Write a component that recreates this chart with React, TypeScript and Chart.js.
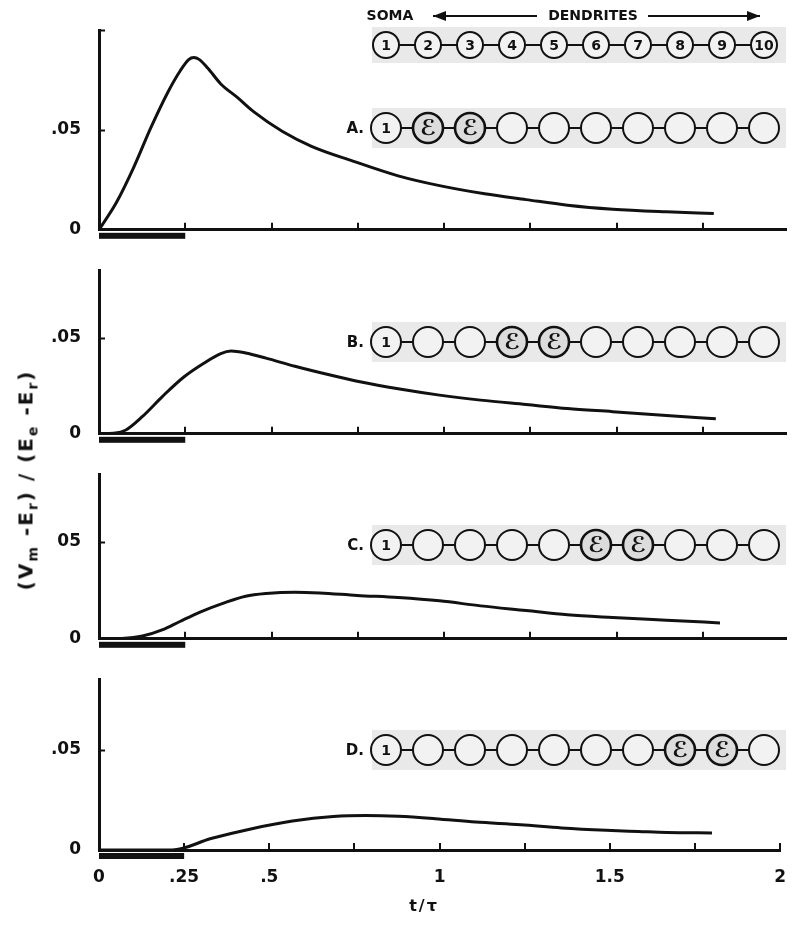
import React, { useEffect, useRef } from 'react';
import { Chart, registerables } from 'chart.js';

Chart.register(...registerables);

// ---------------- data ----------------
const timeA = [0, 0.05, 0.1, 0.15, 0.2, 0.235, 0.26, 0.275, 0.29, 0.315, 0.353, 0.4, 0.449, 0.532, 0.616, 0.736, 0.867, 0.987, 1.118, 1.238, 1.358, 1.489, 1.645, 1.782];
const responseA = [0, 0.0135, 0.031, 0.051, 0.069, 0.0795, 0.0852, 0.0862, 0.0853, 0.081, 0.073, 0.0664, 0.059, 0.0492, 0.0418, 0.0344, 0.027, 0.0221, 0.018, 0.0151, 0.0123, 0.0103, 0.009, 0.0082];

const timeB = [0, 0.042, 0.078, 0.126, 0.185, 0.245, 0.305, 0.353, 0.383, 0.425, 0.484, 0.568, 0.664, 0.76, 0.867, 0.987, 1.106, 1.238, 1.358, 1.489, 1.645, 1.788];
const responseB = [0, 0.0003, 0.002, 0.009, 0.0196, 0.0294, 0.0368, 0.0417, 0.043, 0.042, 0.0393, 0.0351, 0.0308, 0.0269, 0.0234, 0.0201, 0.0175, 0.0152, 0.0131, 0.0115, 0.0095, 0.0078];

const timeC = [0, 0.066, 0.126, 0.185, 0.233, 0.293, 0.365, 0.425, 0.484, 0.568, 0.64, 0.748, 0.867, 0.987, 1.106, 1.238, 1.358, 1.489, 1.645, 1.8];
const responseC = [0, 0.0002, 0.0014, 0.0047, 0.0088, 0.0138, 0.0187, 0.022, 0.0234, 0.0241, 0.0237, 0.0224, 0.0213, 0.0196, 0.017, 0.0146, 0.0124, 0.011, 0.0096, 0.0082];

const timeD = [0, 0.215, 0.329, 0.449, 0.568, 0.688, 0.783, 0.879, 0.987, 1.106, 1.238, 1.358, 1.489, 1.585, 1.669, 1.8];
const responseD = [0, 0, 0.0057, 0.0106, 0.0144, 0.0167, 0.0172, 0.0168, 0.0156, 0.0139, 0.0126, 0.011, 0.0098, 0.0092, 0.0087, 0.0085];

const xTickValues = [0, 0.25, 0.5, 0.75, 1, 1.25, 1.5, 1.75, 2];
const xTickLabels = ['0', '.25', '.5', '', '1', '', '1.5', '', '2'];
const yTickValues = [0, 0.05];
const yTickLabelsA = ['0', '.05'];
const yTickLabelsB = ['0', '.05'];
const yTickLabelsC = ['0', '05'];
const yTickLabelsD = ['0', '.05'];
const yMarkA = [0.05, 0.1];
const yMarkOther = [0.05];
const yMaxA = 0.1;
const yMaxOther = 0.085;
const stimulusStart = 0;
const stimulusEnd = 0.25;

const compartmentNumbers = ['1', '2', '3', '4', '5', '6', '7', '8', '9', '10'];
const panelLetters = ['A.', 'B.', 'C.', 'D.'];
const synapticSitesA = [2, 3];
const synapticSitesB = [4, 5];
const synapticSitesC = [6, 7];
const synapticSitesD = [8, 9];
const headerSoma = 'SOMA';
const headerDendrites = 'DENDRITES';
const synapseSymbol = '\u2130';
const xTitle = 't/\u03c4';

// ---------------- layout ----------------
const FONT = "'DejaVu Sans', 'Liberation Sans', sans-serif";
const CANVAS_W = 787;
const Y_AXIS_W = 91;
const PANELS = [
  { top: 0, height: 242, padTop: 22, axisHeight: 14, rowY: 120, header: true, showX: false,
    time: timeA, resp: responseA, yMax: yMaxA, yLabels: yTickLabelsA, yMarks: yMarkA, letter: panelLetters[0], sites: synapticSitesA },
  { top: 242, height: 204, padTop: 15, axisHeight: 14, rowY: 92, header: false, showX: false,
    time: timeB, resp: responseB, yMax: yMaxOther, yLabels: yTickLabelsB, yMarks: yMarkOther, letter: panelLetters[1], sites: synapticSitesB },
  { top: 446, height: 205, padTop: 16, axisHeight: 14, rowY: 91, header: false, showX: false,
    time: timeC, resp: responseC, yMax: yMaxOther, yLabels: yTickLabelsC, yMarks: yMarkOther, letter: panelLetters[2], sites: synapticSitesC },
  { top: 651, height: 266, padTop: 16, axisHeight: 75, rowY: 91, header: false, showX: true,
    time: timeD, resp: responseD, yMax: yMaxOther, yLabels: yTickLabelsD, yMarks: yMarkOther, letter: panelLetters[3], sites: synapticSitesD },
];

// diagram geometry (canvas px)
const ROW_X0 = 378;
const ROW_DX = 42;
const BAND_L = 364;
const BAND_R = 778;

function drawArrow(ctx: CanvasRenderingContext2D, x1: number, x2: number, y: number, headAtLeft: boolean) {
  ctx.beginPath();
  ctx.moveTo(x1, y);
  ctx.lineTo(x2, y);
  ctx.lineWidth = 2;
  ctx.strokeStyle = '#111';
  ctx.stroke();
  const hx = headAtLeft ? x1 : x2;
  const dir = headAtLeft ? 1 : -1;
  ctx.beginPath();
  ctx.moveTo(hx, y);
  ctx.lineTo(hx + dir * 13, y - 5);
  ctx.lineTo(hx + dir * 13, y + 5);
  ctx.closePath();
  ctx.fillStyle = '#111';
  ctx.fill();
}

function drawRow(ctx: CanvasRenderingContext2D, y: number, r: number, labels: string[], sites: number[]) {
  ctx.fillStyle = '#e9e9e9';
  ctx.fillRect(BAND_L, y - r - 5, BAND_R - BAND_L, 2 * r + 10);
  ctx.beginPath();
  ctx.moveTo(ROW_X0, y);
  ctx.lineTo(ROW_X0 + ROW_DX * (compartmentNumbers.length - 1), y);
  ctx.lineWidth = 2;
  ctx.strokeStyle = '#111';
  ctx.stroke();
  compartmentNumbers.forEach((n, i) => {
    const cx = ROW_X0 + i * ROW_DX;
    const isSite = sites.indexOf(i + 1) >= 0;
    ctx.beginPath();
    ctx.arc(cx, y, r, 0, Math.PI * 2);
    ctx.fillStyle = isSite ? '#dcdcdc' : '#f2f2f2';
    ctx.fill();
    ctx.lineWidth = isSite ? 2.6 : 2;
    ctx.strokeStyle = '#111';
    ctx.stroke();
    ctx.fillStyle = '#111';
    ctx.textAlign = 'center';
    ctx.textBaseline = 'middle';
    if (isSite) {
      ctx.font = `bold 22px ${FONT}`;
      ctx.fillText(synapseSymbol, cx, y + 1);
    } else if (labels[i]) {
      ctx.font = `bold 14px ${FONT}`;
      ctx.fillText(labels[i], cx, y + 1);
    }
  });
}

function makeDecorPlugin(p: typeof PANELS[number]) {
  return {
    id: 'decor',
    afterDraw(chart: any) {
      const ctx: CanvasRenderingContext2D = chart.ctx;
      const xs = chart.scales.x;
      const ys = chart.scales.y;
      const base = ys.getPixelForValue(0);
      const left = xs.getPixelForValue(0);
      ctx.save();
      // inner tick marks
      ctx.strokeStyle = '#111';
      ctx.lineWidth = 2;
      xTickValues.forEach((v) => {
        if (v === 0) return;
        const px = Math.round(xs.getPixelForValue(v));
        ctx.beginPath();
        ctx.moveTo(px, base);
        ctx.lineTo(px, base - 7);
        ctx.stroke();
      });
      p.yMarks.forEach((v) => {
        const py = Math.round(ys.getPixelForValue(v)) + 0.5;
        ctx.beginPath();
        ctx.moveTo(left, py);
        ctx.lineTo(left + 6, py);
        ctx.stroke();
      });
      // stimulus bar
      const s0 = xs.getPixelForValue(stimulusStart);
      const s1 = xs.getPixelForValue(stimulusEnd);
      ctx.fillStyle = '#111';
      ctx.fillRect(s0, base + 3, s1 - s0, 6);
      // compartment diagrams
      if (p.header) {
        ctx.fillStyle = '#111';
        ctx.font = `bold 14px ${FONT}`;
        ctx.textAlign = 'center';
        ctx.textBaseline = 'middle';
        ctx.fillText(headerSoma, 382, 8);
        ctx.fillText(headerDendrites, 585, 8);
        drawArrow(ctx, 425, 529, 8, true);
        drawArrow(ctx, 640, 752, 8, false);
        drawRow(ctx, 37, 13, compartmentNumbers, []);
      }
      const rowLabels = compartmentNumbers.map((n, i) => (i === 0 ? n : ''));
      drawRow(ctx, p.rowY, 15, rowLabels, p.sites);
      ctx.fillStyle = '#111';
      ctx.font = `bold 15px ${FONT}`;
      ctx.textAlign = 'right';
      ctx.textBaseline = 'middle';
      ctx.fillText(p.letter, 356, p.rowY + 1);
      ctx.restore();
    },
  };
}

function Panel({ p }: { p: typeof PANELS[number] }) {
  const ref = useRef<HTMLCanvasElement | null>(null);
  useEffect(() => {
    if (!ref.current) return;
    const chart = new Chart(ref.current, {
      type: 'line',
      data: {
        datasets: [
          {
            data: p.time.map((t, i) => ({ x: t, y: p.resp[i] })),
            borderColor: '#111',
            borderWidth: 3,
            pointRadius: 0,
            fill: false,
            cubicInterpolationMode: 'monotone',
          },
        ],
      },
      options: {
        responsive: false,
        animation: false,
        events: [],
        layout: { padding: { top: p.padTop, right: 6, left: 0, bottom: 0 } },
        plugins: { legend: { display: false }, tooltip: { enabled: false } },
        scales: {
          x: {
            type: 'linear',
            min: 0,
            max: 2,
            grid: { display: false },
            border: { display: true, width: 3, color: '#111' },
            afterBuildTicks: (scale: any) => {
              scale.ticks = xTickValues.map((v) => ({ value: v }));
            },
            afterFit: (scale: any) => {
              scale.height = p.axisHeight;
            },
            ticks: {
              display: p.showX,
              autoSkip: false,
              maxRotation: 0,
              padding: 9,
              color: '#111',
              font: { family: FONT, size: 17, weight: 'bold' },
              callback: (_v: any, i: number) => xTickLabels[i],
            },
          },
          y: {
            type: 'linear',
            min: 0,
            max: p.yMax,
            grid: { display: false },
            border: { display: true, width: 3, color: '#111' },
            afterBuildTicks: (scale: any) => {
              scale.ticks = yTickValues.map((v) => ({ value: v }));
            },
            afterFit: (scale: any) => {
              scale.width = Y_AXIS_W;
            },
            ticks: {
              padding: 10,
              color: '#111',
              font: { family: FONT, size: 17, weight: 'bold' },
              callback: (_v: any, i: number) => p.yLabels[i],
            },
          },
        },
      },
      plugins: [makeDecorPlugin(p)],
    } as any);
    return () => chart.destroy();
  }, [p]);
  return (
    <canvas
      ref={ref}
      width={CANVAS_W}
      height={p.height}
      style={{ position: 'absolute', left: 0, top: p.top, width: CANVAS_W, height: p.height }}
    />
  );
}

export default function App() {
  return (
    <div style={{ position: 'relative', width: CANVAS_W, height: 917, background: '#fff' }}>
      {PANELS.map((p, i) => (
        <Panel key={i} p={p} />
      ))}
      <div
        style={{
          position: 'absolute',
          left: 19,
          top: 472,
          transform: 'translate(-50%, -50%) rotate(-90deg)',
          whiteSpace: 'nowrap',
          fontFamily: FONT,
          fontWeight: 'bold',
          fontSize: 20,
          color: '#111',
          letterSpacing: 2,
        }}
      >
        (V<sub style={{ fontSize: 14 }}>m</sub> -E<sub style={{ fontSize: 14 }}>r</sub>) / (E<sub style={{ fontSize: 14 }}>e</sub> -E<sub style={{ fontSize: 14 }}>r</sub>)
      </div>
      <div
        style={{
          position: 'absolute',
          left: 416,
          top: 897,
          transform: 'translate(-50%, -50%)',
          whiteSpace: 'nowrap',
          fontFamily: FONT,
          fontWeight: 'bold',
          fontSize: 16,
          color: '#111',
          letterSpacing: 2,
        }}
      >
        {xTitle}
      </div>
    </div>
  );
}
